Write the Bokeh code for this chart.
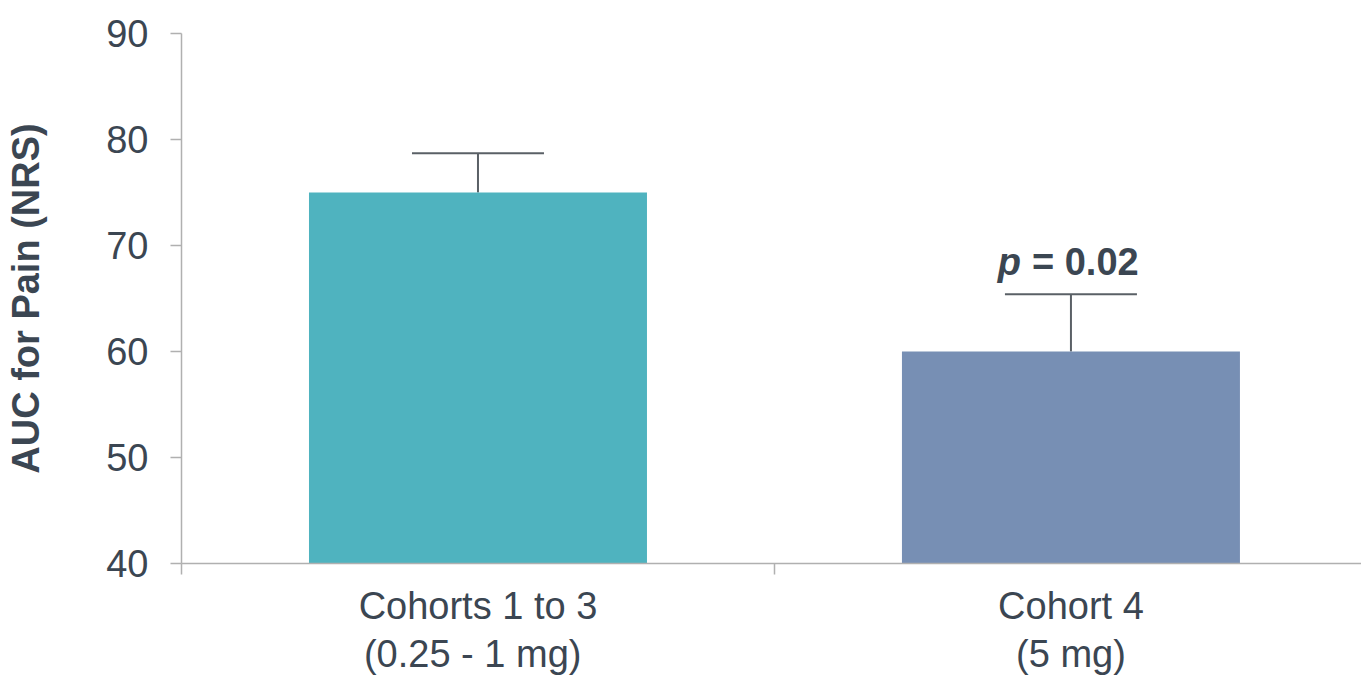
from bokeh.plotting import figure
from bokeh.models import ColumnDataSource, FixedTicker, Range1d, Whisker, TeeHead
from bokeh.core.properties import value
from bokeh.embed import file_html
from bokeh.resources import INLINE

categories = ["Cohorts 1 to 3\n(0.25 - 1  mg)", "Cohort 4\n(5 mg)"]
means = [75.0, 60.0]
upper_err = [78.7, 65.4]
colors = ["#4FB3BF", "#778FB4"]
y_ticks = [40, 50, 60, 70, 80, 90]
p_text = "= 0.02"

xs = [i + 0.5 for i in range(len(categories))]
src = ColumnDataSource(dict(x=xs, top=means, upper=upper_err, color=colors))

FONT = "Liberation Sans"
TXT = "#3B4652"

p = figure(frame_width=1180, frame_height=530, output_backend="svg", toolbar_location=None,
           x_range=Range1d(0, 1.99), y_range=Range1d(40, 90),
           min_border_left=181, min_border_right=0, min_border_top=33, min_border_bottom=100)
p.outline_line_color = None
p.grid.grid_line_color = None
p.background_fill_color = "white"

p.vbar(x="x", top="top", bottom=40, width=0.57, color="color", source=src, line_color=None)

w = Whisker(base="x", upper="upper", lower="top", source=src, dimension="height",
            line_color="#5A6066", line_width=2,
            upper_head=TeeHead(size=132, line_color="#5A6066", line_width=2), lower_head=None)
p.add_layout(w)

# p-value annotation above second bar's error cap
p.text(x=[xs[1]], y=[upper_err[1]], text=["p"], x_offset=-50, y_offset=-32,
       text_font=value(FONT), text_font_style="bold italic", text_font_size="38px",
       text_color=TXT, text_align="right", text_baseline="alphabetic")
p.text(x=[xs[1]], y=[upper_err[1]], text=[p_text], x_offset=-39, y_offset=-32,
       text_font=value(FONT), text_font_style="bold", text_font_size="38px",
       text_color=TXT, text_align="left", text_baseline="alphabetic")

# x axis
p.xaxis.ticker = FixedTicker(ticks=xs, minor_ticks=[0, 1, 2])
p.xaxis.major_label_overrides = {x: c for x, c in zip(xs, categories)}
p.xaxis.major_tick_out = 0
p.xaxis.major_tick_in = 0
p.xaxis.minor_tick_out = 11
p.xaxis.minor_tick_in = 0
p.xaxis.minor_tick_line_color = "#B0B0B0"
p.xaxis.minor_tick_line_width = 1.5
p.xaxis.axis_line_color = "#B0B0B0"
p.xaxis.axis_line_width = 1.5
p.xaxis.major_label_text_font = FONT
p.xaxis.major_label_text_font_size = "38px"
p.xaxis.major_label_text_color = TXT
p.xaxis.major_label_text_line_height = 1.15
p.xaxis.major_label_standoff = 10

# y axis
p.yaxis.ticker = FixedTicker(ticks=y_ticks)
p.yaxis.minor_tick_line_color = None
p.yaxis.major_tick_out = 11
p.yaxis.major_tick_in = 0
p.yaxis.major_tick_line_color = "#B0B0B0"
p.yaxis.major_tick_line_width = 1.5
p.yaxis.axis_line_color = "#B0B0B0"
p.yaxis.axis_line_width = 1.5
p.yaxis.major_label_text_font = FONT
p.yaxis.major_label_text_font_size = "38px"
p.yaxis.major_label_text_color = TXT
p.yaxis.major_label_standoff = 22
p.yaxis.axis_label = "AUC for Pain (NRS)"
p.yaxis.axis_label_text_font = FONT
p.yaxis.axis_label_text_font_style = "bold"
p.yaxis.axis_label_text_font_size = "38px"
p.yaxis.axis_label_text_color = TXT
p.yaxis.axis_label_standoff = 56

open("out.html", "w").write(file_html(p, INLINE))
